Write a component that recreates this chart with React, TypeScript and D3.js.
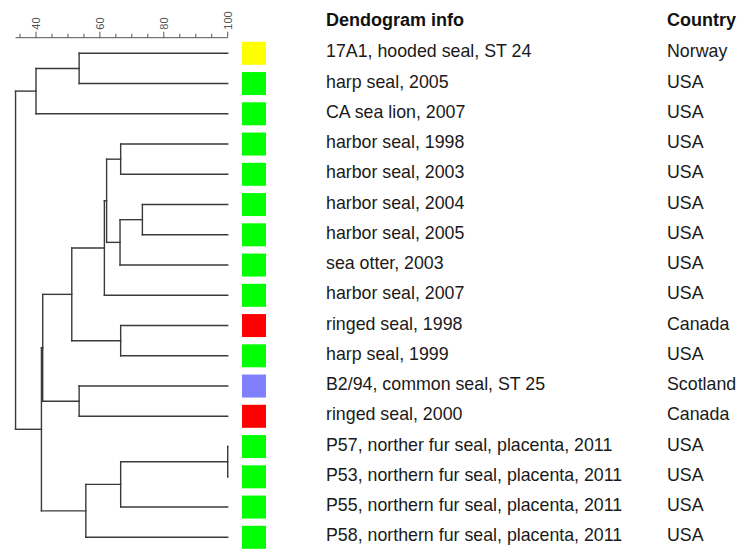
import React from "react";
import * as d3 from "d3";

const leafInfo: string[] = [
  "17A1, hooded seal, ST 24",
  "harp seal, 2005",
  "CA sea lion, 2007",
  "harbor seal, 1998",
  "harbor seal, 2003",
  "harbor seal, 2004",
  "harbor seal, 2005",
  "sea otter, 2003",
  "harbor seal, 2007",
  "ringed seal, 1998",
  "harp seal, 1999",
  "B2/94, common seal, ST 25",
  "ringed seal, 2000",
  "P57, norther fur seal, placenta, 2011",
  "P53, northern fur seal, placenta, 2011",
  "P55, northern fur seal, placenta, 2011",
  "P58, northern fur seal, placenta, 2011",
];

const leafCountry: string[] = [
  "Norway", "USA", "USA", "USA", "USA", "USA", "USA", "USA", "USA",
  "Canada", "USA", "Scotland", "Canada", "USA", "USA", "USA", "USA",
];

const leafColor: string[] = [
  "#ffff00", "#00ff00", "#00ff00", "#00ff00", "#00ff00", "#00ff00", "#00ff00",
  "#00ff00", "#00ff00", "#ff0000", "#00ff00", "#8080ff", "#ff0000",
  "#00ff00", "#00ff00", "#00ff00", "#00ff00",
];

// merges: [childA, childB, similarity]; new node ids start at 17
const mergeLeft: number[] = [0, 17, 3, 5, 20, 19, 22, 9, 23, 11, 25, 13, 28, 29, 27, 18];
const mergeRight: number[] = [1, 2, 4, 6, 7, 21, 8, 10, 24, 12, 26, 14, 15, 16, 30, 31];
const mergeHeight: number[] = [53.5, 40.0, 66.5, 73.3, 66.3, 62.1, 61.4, 66.5, 51.2, 53.5, 42.1, 100, 66.5, 55.6, 41.7, 33.6];

const axisTicksMajor: number[] = [40, 60, 80, 100];
const axisTicksMinor: number[] = [35, 45, 50, 55, 65, 70, 75, 85, 90, 95];

export default function App() {
  const W = 748, H = 559;
  const x = d3.scaleLinear().domain([40, 100]).range([36, 227.7]);
  const y = d3.scaleLinear().domain([0, leafInfo.length - 1]).range([53.3, 537.3]);

  const n = leafInfo.length;
  const nodeX: number[] = [];
  const nodeY: number[] = [];
  for (let i = 0; i < n; i++) {
    nodeX[i] = x(100);
    nodeY[i] = y(i);
  }
  const segs: { x1: number; y1: number; x2: number; y2: number }[] = [];
  mergeLeft.forEach((a, k) => {
    const b = mergeRight[k];
    const id = n + k;
    const xx = x(mergeHeight[k]);
    nodeX[id] = xx;
    nodeY[id] = (nodeY[a] + nodeY[b]) / 2;
    segs.push({ x1: xx, y1: nodeY[a], x2: xx, y2: nodeY[b] });
    segs.push({ x1: xx, y1: nodeY[a], x2: nodeX[a], y2: nodeY[a] });
    segs.push({ x1: xx, y1: nodeY[b], x2: nodeX[b], y2: nodeY[b] });
  });

  const axisY = 37.7;
  const rootX = nodeX[n + mergeLeft.length - 1];
  const font = "'Liberation Sans', Arial, sans-serif";

  return (
    <svg width={W} height={H} style={{ position: "absolute", left: 0, top: 0, background: "#fff" }}>
      <rect width={W} height={H} fill="#fff" />
      {/* axis */}
      <g stroke="#555" strokeWidth={1}>
        <line x1={rootX} x2={x(100)} y1={axisY} y2={axisY} />
        {axisTicksMajor.map((t) => (
          <line key={"M" + t} x1={x(t)} x2={x(t)} y1={axisY} y2={axisY - 6} />
        ))}
        {axisTicksMinor.map((t) => (
          <line key={"m" + t} x1={x(t)} x2={x(t)} y1={axisY} y2={axisY - 4} />
        ))}
      </g>
      {axisTicksMajor.map((t) => (
        <text
          key={"l" + t}
          transform={`translate(${x(t)},${axisY - 8}) rotate(-90)`}
          textAnchor="start"
          dy="0.36em"
          fontSize={11}
          fill="#555"
          fontFamily={font}
        >
          {t}
        </text>
      ))}
      {/* dendrogram */}
      <g stroke="#3a3a3a" strokeWidth={1.4} strokeLinecap="square">
        {segs.map((s, i) => (
          <line key={i} x1={s.x1} y1={s.y1} x2={s.x2} y2={s.y2} />
        ))}
      </g>
      {/* colour boxes */}
      {leafColor.map((c, i) => (
        <rect key={"b" + i} x={242} y={y(i) - 11.5} width={24} height={23} fill={c} />
      ))}
      {/* headers */}
      <text x={326} y={25.5} fontSize={18} fontWeight="bold" fontFamily={font} fill="#111">
        Dendogram info
      </text>
      <text x={667} y={25.5} fontSize={18} fontWeight="bold" fontFamily={font} fill="#111">
        Country
      </text>
      {leafInfo.map((t, i) => (
        <text key={"t" + i} x={326} y={y(i) + 4} fontSize={17.8} fontFamily={font} fill="#1a1a1a">
          {t}
        </text>
      ))}
      {leafCountry.map((t, i) => (
        <text key={"c" + i} x={667} y={y(i) + 4} fontSize={17.8} fontFamily={font} fill="#1a1a1a">
          {t}
        </text>
      ))}
    </svg>
  );
}
